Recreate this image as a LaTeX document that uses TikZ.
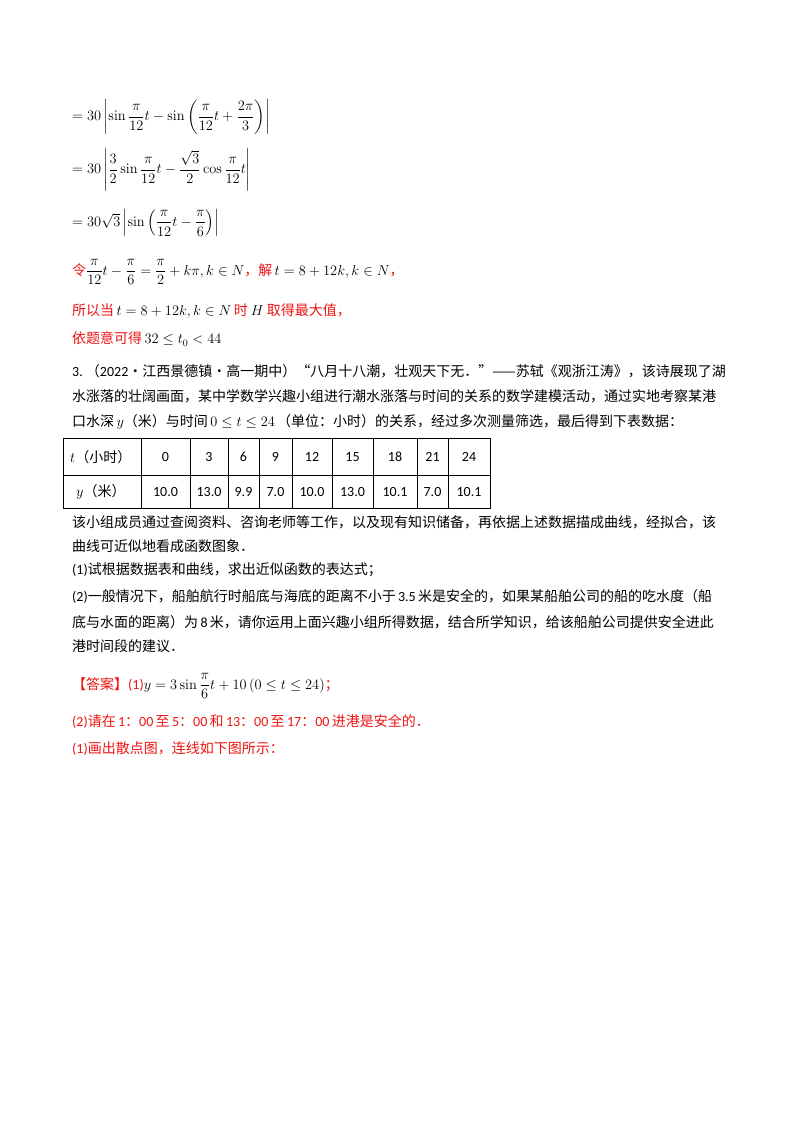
\documentclass[tikz,border=0pt]{standalone}
\usepackage{amsmath}
\usepackage[no-math]{fontspec}
\setmainfont{Noto Sans CJK SC}
\newfontfamily\lat{Carlito}
\definecolor{ansred}{RGB}{240,20,20}
\begin{document}
\begin{tikzpicture}[x=1pt,y=-1pt,
  txt/.style={anchor=west,inner sep=0pt,font=\fontsize{14}{16}\selectfont},
  rtxt/.style={txt,text=ansred},
  cell/.style={inner sep=0pt,font=\lat\fontsize{14}{16}\selectfont}]
\useasboundingbox[fill=white] (0,0) rectangle (800,1132);
\node[txt] (m1) at (72,117) {$=30\left|\sin\dfrac{\pi}{12}t-\sin\left(\dfrac{\pi}{12}t+\dfrac{2\pi}{3}\right)\right|$};
\node[txt] (m2) at (72,170) {$=30\left|\dfrac{3}{2}\sin\dfrac{\pi}{12}t-\dfrac{\sqrt3}{2}\cos\dfrac{\pi}{12}t\right|$};
\node[txt] (m3) at (72,223) {$=30\sqrt3\left|\sin\left(\dfrac{\pi}{12}t-\dfrac{\pi}{6}\right)\right|$};
\node[rtxt] (m4) at (72,272) {令$\color{black}\dfrac{\pi}{12}t-\dfrac{\pi}{6}=\dfrac{\pi}{2}+k\pi,k\in N$，解\,$\color{black}t=8+12k,k\in N$，};
\node[rtxt] (m5) at (72,311) {所以当\,$\color{black}t=8+12k,k\in N$\,时 $\color{black}H$ 取得最大值，};
\node[rtxt] (m6) at (72,339) {依题意可得\,$\color{black}32\le t_0<44$};
\node[txt] (p1) at (72,371) {{\lat 3.}\ （{\lat 2022}·江西景德镇·高一期中）“八月十八潮，壮观天下无．”——苏轼《观浙江涛》，该诗展现了湖};
\node[txt] (p2) at (72,396) {水涨落的壮阔画面，某中学数学兴趣小组进行潮水涨落与时间的关系的数学建模活动，通过实地考察某港};
\node[txt] (p3) at (72,422) {口水深\,$y$（米）与时间\,$0\le t\le 24$\,（单位：小时）的关系，经过多次测量筛选，最后得到下表数据：};
% table
\draw[line width=0.8pt] (63,438) rectangle (490,508);
\draw[line width=0.6pt] (63,475) -- (490,475);
\foreach \x in {141,190,228,259,292,332,373,417,448} \draw[line width=0.6pt] (\x,438) -- (\x,508);
\node[txt] (h0) at (70,457) {$t$（小时）};
\node[txt] (r0) at (76,492) {$y$（米）};
\foreach \a/\b/\v/\w in {141/190/0/10.0,190/228/3/13.0,228/259/6/9.9,259/292/9/7.0,292/332/12/10.0,332/373/15/13.0,373/417/18/10.1,417/448/21/7.0,448/490/24/10.1}{
  \node[cell] at ({(\a+\b)/2},457) {\v};
  \node[cell] at ({(\a+\b)/2},492) {\w};}
\node[txt] (p4) at (72,522) {该小组成员通过查阅资料、咨询老师等工作，以及现有知识储备，再依据上述数据描成曲线，经拟合，该};
\node[txt] (p5) at (72,546) {曲线可近似地看成函数图象．};
\node[txt] (p6) at (72,570) {{\lat(1)}试根据数据表和曲线，求出近似函数的表达式；};
\node[txt] (p7) at (72,596) {{\lat(2)}一般情况下，船舶航行时船底与海底的距离不小于\,{\lat 3.5}\,米是安全的，如果某船舶公司的船的吃水度（船};
\node[txt] (p8) at (72,622) {底与水面的距离）为\,{\lat 8}\,米，请你运用上面兴趣小组所得数据，结合所学知识，给该船舶公司提供安全进此};
\node[txt] (p9) at (72,646) {港时间段的建议．};
\node[rtxt] (a1) at (72,686) {【答案】{\lat(1)}$\color{black}y=3\sin\dfrac{\pi}{6}t+10\left(0\le t\le 24\right)$；};
\node[rtxt] (a2) at (72,722) {{\lat(2)}请在\,{\lat 1}：{\lat 00}\,至\,{\lat 5}：{\lat 00}\,和\,{\lat 13}：{\lat 00}\,至\,{\lat 17}：{\lat 00}\,进港是安全的．};
\node[rtxt] (a3) at (72,749) {{\lat(1)}画出散点图，连线如下图所示：};
\end{tikzpicture}
\end{document}
